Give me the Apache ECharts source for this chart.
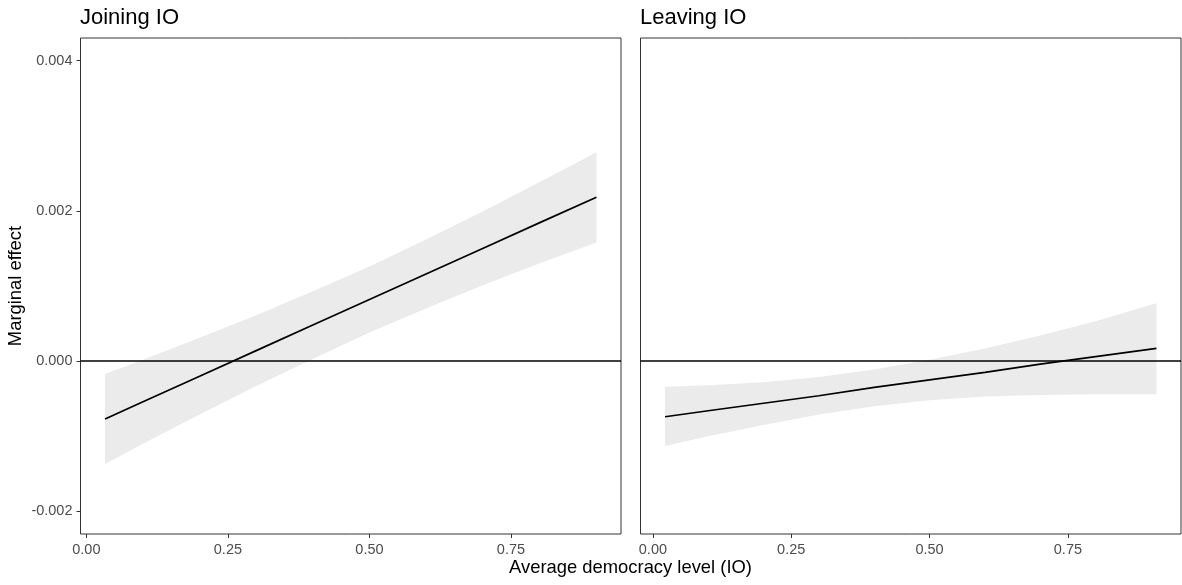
<!DOCTYPE html>
<html>
<head>
<meta charset="utf-8">
<script src="https://cdn.jsdelivr.net/npm/echarts@6/dist/echarts.min.js"></script>
<style>
html,body{margin:0;padding:0;background:#fff;}
#chart{width:1182px;height:585px;}
</style>
</head>
<body>
<div id="chart"></div>
<script>
// ---- Data ----
var panelTitles = ['Joining IO', 'Leaving IO'];
var xTicks = [0, 0.25, 0.5, 0.75];
var yTicks = [-0.002, 0, 0.002, 0.004];

var joinX      = [0.033, 0.1, 0.2, 0.3, 0.4, 0.5, 0.6, 0.7, 0.8, 0.901];
var joinEffect = [-0.00077, -0.00054, -0.00020, 0.00014, 0.00048, 0.00082, 0.00116, 0.00150, 0.00184, 0.00218];
var joinLower  = [-0.00137, -0.00110, -0.00071, -0.00033, 0.00003, 0.00038, 0.00070, 0.00101, 0.00130, 0.00158];
var joinUpper  = [-0.00017, 0.00002, 0.00031, 0.00061, 0.00093, 0.00126, 0.00162, 0.00199, 0.00238, 0.00278];

var leaveX      = [0.022, 0.1, 0.2, 0.3, 0.4, 0.5, 0.6, 0.7, 0.8, 0.91];
var leaveEffect = [-0.00074, -0.00066, -0.00056, -0.00046, -0.00035, -0.00025, -0.00015, -0.00004, 0.00006, 0.00017];
var leaveLower  = [-0.00113, -0.00100, -0.00085, -0.00071, -0.00060, -0.00052, -0.00047, -0.00045, -0.00044, -0.00044];
var leaveUpper  = [-0.00034, -0.00032, -0.00028, -0.00021, -0.00011, 0.00002, 0.00017, 0.00034, 0.00053, 0.00077];

// ---- Chart ----
var FONT = '"Liberation Sans", Arial, Helvetica, sans-serif';
var chart = echarts.init(document.getElementById('chart'), null, {renderer: 'canvas'});

function band(xs, lo, hi, gi) {
  return {
    type: 'custom', xAxisIndex: gi, yAxisIndex: gi, silent: true, z: 1, clip: true,
    data: [[xs[0], lo[0]]],
    renderItem: function (params, api) {
      var pts = [];
      for (var i = 0; i < xs.length; i++) pts.push(api.coord([xs[i], hi[i]]));
      for (var j = xs.length - 1; j >= 0; j--) pts.push(api.coord([xs[j], lo[j]]));
      return {type: 'polygon', shape: {points: pts}, style: {fill: '#ebebeb', stroke: null}};
    }
  };
}
function effLine(xs, ys, gi) {
  return {
    type: 'line', xAxisIndex: gi, yAxisIndex: gi, z: 3, silent: true,
    symbol: 'none', smooth: false,
    data: xs.map(function (x, i) { return [x, ys[i]]; }),
    lineStyle: {color: '#000', width: 1.7},
    markLine: {
      silent: true, symbol: 'none', animation: false,
      label: {show: false},
      lineStyle: {color: '#000', width: 1.5, type: 'solid'},
      data: [{yAxis: 0}]
    }
  };
}
function xAxis(gi, min, max) {
  return {
    type: 'value', gridIndex: gi, min: min, max: max,
    splitLine: {show: false},
    axisLine: {show: false, onZero: false},
    axisTick: {show: true, inside: false, length: 4, lineStyle: {color: '#333', width: 1}, customValues: xTicks},
    axisLabel: {color: '#4d4d4d', fontSize: 14.5, fontFamily: FONT, margin: 8,
      customValues: xTicks, formatter: function (v) { return v.toFixed(2); }}
  };
}
function yAxis(gi, showLabels) {
  return {
    type: 'value', gridIndex: gi, min: -0.0023, max: 0.0043,
    splitLine: {show: false},
    axisLine: {show: false, onZero: false},
    axisTick: {show: showLabels, inside: false, length: 4, lineStyle: {color: '#333', width: 1}, customValues: yTicks},
    axisLabel: {show: showLabels, color: '#4d4d4d', fontSize: 14.5, fontFamily: FONT, margin: 8,
      customValues: yTicks, formatter: function (v) { return v.toFixed(3); }}
  };
}

var option = {
  animation: false,
  backgroundColor: '#fff',
  grid: [
    {left: 80.5, top: 38, width: 540.5, height: 496, show: true, borderColor: '#333', borderWidth: 1, backgroundColor: 'transparent'},
    {left: 640.5, top: 38, width: 540.5, height: 496, show: true, borderColor: '#333', borderWidth: 1, backgroundColor: 'transparent'}
  ],
  xAxis: [xAxis(0, -0.0104, 0.9444), xAxis(1, -0.0224, 0.9544)],
  yAxis: [yAxis(0, true), yAxis(1, false)],
  graphic: [
    {type: 'text', left: 80, top: 7, style: {text: panelTitles[0], fill: '#000', font: '22px ' + FONT}},
    {type: 'text', left: 640, top: 7, style: {text: panelTitles[1], fill: '#000', font: '22px ' + FONT}},
    {type: 'text', x: 630.5, y: 568, style: {text: 'Average democracy level (IO)', fill: '#000', font: '18.4px ' + FONT, align: 'center', verticalAlign: 'middle'}},
    {type: 'text', x: 16, y: 286, rotation: Math.PI / 2, style: {text: 'Marginal effect', fill: '#000', font: '18.4px ' + FONT, align: 'center', verticalAlign: 'middle'}}
  ],
  series: [
    band(joinX, joinLower, joinUpper, 0),
    effLine(joinX, joinEffect, 0),
    band(leaveX, leaveLower, leaveUpper, 1),
    effLine(leaveX, leaveEffect, 1)
  ]
};
chart.setOption(option);
</script>
</body>
</html>
